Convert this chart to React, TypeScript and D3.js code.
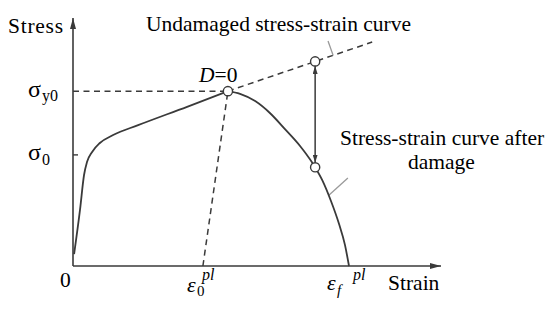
import { useEffect, useRef } from "react";
import * as d3 from "d3";

type Pt = [number, number];

// strain / stress in arbitrary units
const hardening: Pt[] = [
  [0.3, 4.8], [1.9, 22.6], [3.0, 36.7], [3.8, 41.9], [5.2, 46.0],
  [7.3, 49.6], [10.9, 52.8], [17.7, 56.8], [31.0, 64.2], [42.1, 70.5],
];
const softening: Pt[] = [
  [42.1, 70.5], [45.4, 69.4], [49.5, 66.5], [53.5, 61.7], [57.6, 55.2],
  [61.7, 48.4], [64.9, 41.9], [67.7, 34.7], [70.1, 26.2], [72.3, 16.9],
  [73.9, 8.5], [75.0, 0],
];
const sigmaY0 = 70.5;
const sigma0 = 44.8;
const eps0pl = 35.3;
const epsFpl = 75.0;
const peak: Pt = [42.1, 70.5];
const undamagedPt: Pt = [65.8, 82.5];
const damagedPt: Pt = [65.8, 39.8];
const undamagedEnd: Pt = [81.3, 90.3];
const leaderTop: Pt[] = [[69.3, 90.7], [70.7, 84.9]];
const leaderBottom: Pt[] = [[69.6, 28.6], [74.7, 35.5]];

const FONT = "'Liberation Serif', 'Times New Roman', serif";
const INK = "#3a3a3a";

export default function App() {
  const ref = useRef<HTMLDivElement>(null);

  useEffect(() => {
    if (!ref.current) return;
    const width = 550;
    const height = 310;

    const svg = d3
      .select(ref.current)
      .html("")
      .append("svg")
      .attr("width", width)
      .attr("height", height)
      .style("position", "absolute")
      .style("left", 0)
      .style("top", 0)
      .style("background", "#fff");

    const x = d3.scaleLinear().domain([0, 100]).range([73, 441]);
    const y = d3.scaleLinear().domain([0, 100]).range([266, 18]);

    // arrow heads
    const defs = svg.append("defs");
    defs.append("marker")
      .attr("id", "axisArrow")
      .attr("viewBox", "0 0 11 6")
      .attr("refX", 11)
      .attr("refY", 3)
      .attr("markerWidth", 11)
      .attr("markerHeight", 6)
      .attr("markerUnits", "userSpaceOnUse")
      .attr("orient", "auto")
      .append("path")
      .attr("d", "M0,0L11,3L0,6Z")
      .attr("fill", INK);
    defs.append("marker")
      .attr("id", "dblArrow")
      .attr("viewBox", "0 0 8 5")
      .attr("refX", 8)
      .attr("refY", 2.5)
      .attr("markerWidth", 8)
      .attr("markerHeight", 5)
      .attr("markerUnits", "userSpaceOnUse")
      .attr("orient", "auto-start-reverse")
      .append("path")
      .attr("d", "M0,0L8,2.5L0,5Z")
      .attr("fill", INK);

    // axes
    svg.append("line")
      .attr("x1", x(0)).attr("y1", y(0))
      .attr("x2", x(0)).attr("y2", y(100))
      .attr("stroke", INK)
      .attr("stroke-width", 1.6)
      .attr("marker-end", "url(#axisArrow)");
    svg.append("line")
      .attr("x1", x(0)).attr("y1", y(0))
      .attr("x2", x(100)).attr("y2", y(0))
      .attr("stroke", INK)
      .attr("stroke-width", 1.6)
      .attr("marker-end", "url(#axisArrow)");

    // sigma0 tick
    svg.append("line")
      .attr("x1", x(0)).attr("x2", x(0) + 5)
      .attr("y1", y(sigma0)).attr("y2", y(sigma0))
      .attr("stroke", INK)
      .attr("stroke-width", 1.4);

    const dash = "6,4.5";
    // dashed guides
    svg.append("line")
      .attr("x1", x(0)).attr("y1", y(sigmaY0))
      .attr("x2", x(peak[0])).attr("y2", y(peak[1]))
      .attr("stroke", INK).attr("stroke-width", 1.5)
      .attr("stroke-dasharray", dash);
    svg.append("line")
      .attr("x1", x(eps0pl)).attr("y1", y(0))
      .attr("x2", x(peak[0])).attr("y2", y(peak[1]))
      .attr("stroke", INK).attr("stroke-width", 1.5)
      .attr("stroke-dasharray", dash);
    svg.append("line")
      .attr("x1", x(peak[0])).attr("y1", y(peak[1]))
      .attr("x2", x(undamagedEnd[0])).attr("y2", y(undamagedEnd[1]))
      .attr("stroke", INK).attr("stroke-width", 1.5)
      .attr("stroke-dasharray", dash);

    // leader lines
    const leader = d3.line<Pt>().x(d => x(d[0])).y(d => y(d[1]));
    [leaderTop, leaderBottom].forEach(pts => {
      svg.append("path")
        .attr("d", leader(pts))
        .attr("fill", "none")
        .attr("stroke", "#9a9a9a")
        .attr("stroke-width", 1.3);
    });

    // stress-strain curve
    const curve = d3.line<Pt>()
      .x(d => x(d[0]))
      .y(d => y(d[1]))
      .curve(d3.curveMonotoneX);
    [hardening, softening].forEach(pts => {
      svg.append("path")
        .attr("d", curve(pts))
        .attr("fill", "none")
        .attr("stroke", INK)
        .attr("stroke-width", 1.8);
    });

    // double arrow between undamaged and damaged stress
    const r = 4.6;
    svg.append("line")
      .attr("x1", x(undamagedPt[0])).attr("y1", y(undamagedPt[1]) + r)
      .attr("x2", x(damagedPt[0])).attr("y2", y(damagedPt[1]) - r)
      .attr("stroke", INK)
      .attr("stroke-width", 1.5)
      .attr("marker-start", "url(#dblArrow)")
      .attr("marker-end", "url(#dblArrow)");

    // circles
    [peak, undamagedPt, damagedPt].forEach(p => {
      svg.append("circle")
        .attr("cx", x(p[0]))
        .attr("cy", y(p[1]))
        .attr("r", r)
        .attr("fill", "#fff")
        .attr("stroke", INK)
        .attr("stroke-width", 1.4);
    });

    // text
    const txt = (tx: number, ty: number, s: string, size = 21.5, style = "normal") =>
      svg.append("text")
        .attr("x", tx)
        .attr("y", ty)
        .attr("font-family", FONT)
        .attr("font-size", size)
        .attr("font-style", style)
        .attr("fill", "#000")
        .text(s);

    txt(8, 33, "Stress").attr("textLength", 55);
    txt(146, 31, "Undamaged stress-strain curve");
    txt(388, 290, "Strain");
    txt(340, 145, "Stress-strain curve after");
    txt(408, 169, "damage");

    const dl = txt(199, 82, "");
    dl.append("tspan").attr("font-style", "italic").text("D");
    dl.append("tspan").text("=0");

    // stress tick labels
    txt(28, y(sigmaY0) + 6, "σ", 24);
    txt(42, y(sigmaY0) + 10, "y0", 16);
    txt(28, y(sigma0) + 5, "σ", 24);
    txt(42, y(sigma0) + 10, "0", 16);

    // strain tick labels
    txt(x(0) - 13, 287, "0");
    txt(x(eps0pl) - 16, 292, "ε", 22, "italic");
    txt(x(eps0pl) - 6, 296, "0", 15);
    txt(x(eps0pl) - 1, 280, "pl", 16, "italic");
    txt(x(epsFpl) - 22, 290, "ε", 22, "italic");
    txt(x(epsFpl) - 12, 295, "f", 15, "italic");
    txt(x(epsFpl) + 4, 280, "pl", 16, "italic");
  }, []);

  return <div ref={ref}></div>;
}
